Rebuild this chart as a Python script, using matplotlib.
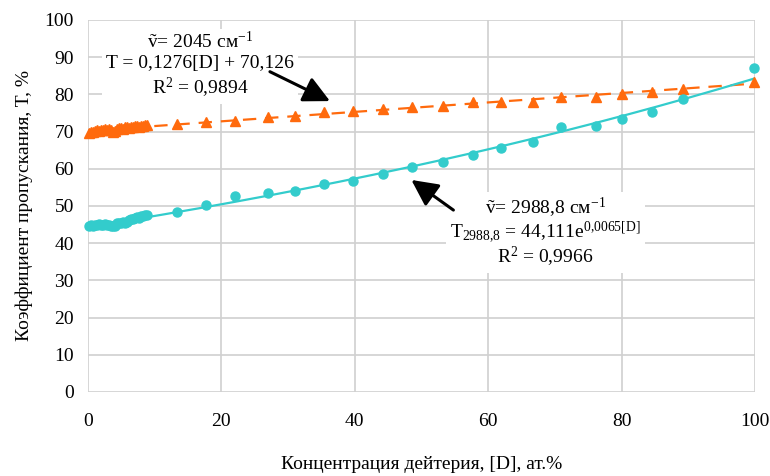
import numpy as np
import matplotlib
matplotlib.use('Agg')
from matplotlib import pyplot as plt

plt.rcParams['font.family'] = ['Liberation Serif', 'DejaVu Serif']
plt.rcParams['mathtext.fontset'] = 'custom'
plt.rcParams['mathtext.rm'] = 'Liberation Serif'
plt.rcParams['mathtext.it'] = 'Liberation Serif:italic'

# deuterium concentration, at.%
conc = [0.2, 0.5, 0.8, 1.1, 1.4, 1.7, 2.0, 2.3, 2.6, 2.9, 3.2, 3.5, 3.8, 4.1, 4.4,
        4.7, 5.0, 5.3, 5.6, 5.9, 6.2, 6.5, 6.8, 7.1, 7.4, 7.7, 8.0, 8.3, 8.6, 8.9,
        13.3, 17.7, 22.1, 27.0, 31.0, 35.4, 39.7, 44.3, 48.6, 53.3, 57.7,
        62.0, 66.7, 71.0, 76.1, 80.1, 84.6, 89.2, 99.8]

# transmission at 2045 cm-1
t_2045 = [69.6, 69.8, 70.0, 70.1, 70.3, 70.2, 70.5, 70.4, 70.6, 70.5, 70.7, 70.3, 70.0, 70.2, 70.8,
          70.9, 71.0, 70.8, 71.1, 71.2, 71.0, 71.3, 71.2, 71.4, 71.5, 71.3, 71.6, 71.5, 71.8, 71.7,
          72.0, 72.5, 72.8, 74.0, 74.2, 75.3, 75.5, 76.1, 76.6, 76.9, 78.0,
          78.0, 78.0, 79.2, 79.4, 80.1, 80.6, 81.5, 83.4]

# transmission at 2988.8 cm-1
t_2988 = [44.6, 44.8, 44.7, 45.0, 44.9, 45.1, 45.0, 44.9, 45.1, 45.0, 44.8, 44.6, 44.5, 44.7, 45.3,
          45.5, 45.4, 45.6, 45.5, 45.8, 46.2, 46.5, 46.6, 46.9, 47.0, 46.8, 47.2, 47.4, 47.5, 47.6,
          48.4, 50.2, 52.6, 53.4, 54.1, 55.8, 56.7, 58.6, 60.4, 61.7, 63.7,
          65.7, 67.1, 71.3, 71.5, 73.3, 75.4, 78.8, 87.2]

orange = '#FF6A0D'
cyan = '#33CCCC'

x = np.array(conc)
y1 = np.array(t_2045)
y2 = np.array(t_2988)

# trendlines (linear and exponential fits)
k1, b1 = np.polyfit(x, y1, 1)
k2, b2 = np.polyfit(x, np.log(y2), 1)
xf = np.linspace(0, 100, 200)

fig = plt.figure(figsize=(7.7, 4.76), dpi=100)
ax = fig.add_axes([0.114, 0.1765, 0.8665, 0.7815])

ax.plot(xf, k1 * xf + b1, color=orange, lw=1.6, ls=(0, (6, 4)), zorder=2)
ax.plot(xf, np.exp(b2) * np.exp(k2 * xf), color=cyan, lw=1.6, zorder=2)
ax.plot(x, y1, '^', color=orange, ms=7, zorder=3, clip_on=False)
ax.plot(x, y2, 'o', color=cyan, ms=6.5, zorder=3, clip_on=False)

ax.set_xlim(0, 100)
ax.set_ylim(0, 100)
ax.set_xticks(np.arange(0, 101, 20))
ax.set_yticks(np.arange(0, 101, 10))
ax.grid(True, color='#D0D0D0', lw=1.2)
ax.set_axisbelow(True)
for s in ax.spines.values():
    s.set_visible(False)
ax.tick_params(length=0, labelsize=14, colors='black')
ax.tick_params(axis='x', pad=15)
ax.tick_params(axis='y', pad=10)

ax.set_xlabel('Концентрация дейтерия, [D], ат.%', fontsize=14, labelpad=19)
ax.set_ylabel('Коэффициент пропускания, T, %', fontsize=14, labelpad=8)

box = dict(facecolor='white', edgecolor='none', pad=3)
ax.text(16.8, 87.8,
        'ṽ= 2045 см$^{\\mathrm{-1}}$\nT = 0,1276[D] + 70,126\nR$^{\\mathrm{2}}$ = 0,9894',
        ha='center', va='center', fontsize=14, linespacing=1.2, bbox=box, zorder=4)
ax.text(68.6, 42.9,
        'ṽ= 2988,8 см$^{\\mathrm{-1}}$\nT$_{\\mathrm{2988{,}8}}$ = 44,111e$^{\\mathrm{0{,}0065[D]}}$\nR$^{\\mathrm{2}}$ = 0,9966',
        ha='center', va='center', fontsize=14, linespacing=1.0, bbox=box, zorder=4)

arrow = dict(arrowstyle='-|>,head_length=0.8,head_width=0.4', color='black', lw=2.2,
             mutation_scale=20, shrinkA=0, shrinkB=0)
ax.annotate('', xy=(36.3, 78.2), xytext=(27.3, 86.1), arrowprops=arrow, zorder=5)
ax.annotate('', xy=(48.5, 57.0), xytext=(54.8, 48.9), arrowprops=arrow, zorder=5)

fig.savefig('out.png', dpi=100)
